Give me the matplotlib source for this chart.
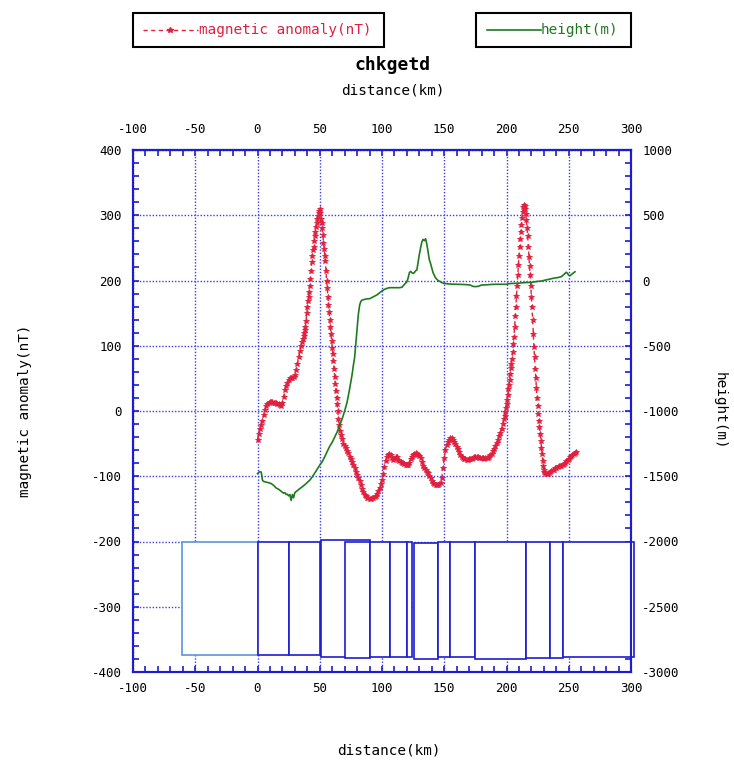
import matplotlib
matplotlib.use("Agg")
import matplotlib.pyplot as plt
from matplotlib.patches import Rectangle
from matplotlib.lines import Line2D
from matplotlib.ticker import MultipleLocator

plt.rcParams['axes.unicode_minus'] = False

# ---------------- data ----------------
title = "chkgetd"
x_label = "distance(km)"
mag_label = "magnetic anomaly(nT)"
height_label = "height(m)"

mag_km = [0, 1, 2, 3, 4, 5, 6, 7, 8, 9, 10, 11, 12, 13, 14, 15, 16, 17, 18, 19,
          20, 21, 22, 23, 24, 25, 26, 27, 28, 29, 30, 31, 32, 33, 34, 35,
          36, 36.5, 37, 37.5, 38, 38.5, 39, 39.5, 40, 40.5, 41, 41.5, 42, 42.5, 43, 43.5,
          44, 44.5, 45, 45.5, 46, 46.5, 47, 47.5, 48, 48.5, 49, 49.5, 50, 50.5, 51, 51.5,
          52, 52.5, 53, 53.5, 54, 54.5, 55, 55.5, 56, 56.5, 57, 57.5, 58, 58.5, 59, 59.5,
          60, 60.5, 61, 61.5, 62, 62.5, 63, 63.5, 64, 64.5, 65, 65.5, 66,
          67, 68, 69, 70, 71, 72, 73, 74, 75, 76, 77, 78, 79, 80, 81, 82, 83, 84, 85, 86,
          87, 88, 89, 90, 91, 92, 93, 94, 95, 96, 97, 98, 99, 100, 101, 102, 103, 104, 105,
          106, 107, 108, 109, 110, 111, 112, 113, 114, 115, 116, 117, 118, 119, 120, 121,
          122, 123, 124, 125, 126, 127, 128, 129, 130, 131, 132, 133, 134, 135, 136, 137,
          138, 139, 140, 141, 142, 143, 144, 145, 146, 147, 148, 149, 150, 151, 152, 153,
          154, 155, 156, 157, 158, 159, 160, 161, 162, 163, 164, 165, 166, 167, 168, 169,
          170, 171, 172, 173, 174, 175, 176, 177, 178, 179, 180, 181, 182, 183, 184, 185,
          186, 187, 188, 189, 190, 191, 192, 193, 194, 195, 196, 197, 198,
          198.5, 199, 199.5, 200, 200.5, 201, 201.5, 202, 202.5, 203, 203.5, 204, 204.5,
          205, 205.5, 206, 206.5, 207, 207.5, 208, 208.5, 209, 209.5, 210, 210.5, 211,
          211.5, 212, 212.5, 213, 213.5, 214, 214.5, 215, 215.5, 216, 216.5, 217, 217.5,
          218, 218.5, 219, 219.5, 220, 220.5, 221, 221.5, 222, 222.5, 223, 223.5, 224,
          224.5, 225, 225.5, 226, 226.5, 227, 227.5, 228, 228.5, 229, 229.5, 230, 230.5, 231,
          232, 233, 234, 235, 236, 237, 238, 239, 240, 241, 242, 243, 244, 245, 246, 247,
          248, 249, 250, 251, 252, 253, 254, 255, 256]

mag_nT = [-44, -36, -28, -21, -15, -6, 2, 7, 10, 12, 14, 14, 14, 13, 12, 12, 11, 10, 9, 8,
          12, 22, 32, 38, 43, 47, 50, 51, 51, 52, 55, 63, 72, 82, 92, 100,
          106, 110, 115, 120, 124, 129, 138, 150, 160, 168, 175, 183, 192, 202, 215, 228,
          238, 246, 252, 260, 268, 275, 282, 288, 294, 299, 303, 307, 309, 303, 295, 288,
          280, 270, 258, 248, 238, 230, 215, 200, 188, 175, 162, 152, 140, 128, 118, 108,
          97, 88, 76, 65, 52, 42, 30, 20, 10, 0, -12, -22, -30,
          -37, -43, -50, -54, -57, -61, -65, -70, -74, -78, -83, -88, -93, -98, -103, -108, -114, -119, -124, -128,
          -131, -133, -134, -135, -135, -134, -133, -132, -130, -127, -123, -118, -112, -105, -96, -86, -76, -70, -68,
          -66, -68, -72, -75, -73, -70, -71, -75, -77, -78, -79, -80, -81, -82, -82, -82,
          -79, -74, -70, -67, -66, -65, -66, -67, -69, -72, -78, -84, -88, -91, -93, -95,
          -99, -103, -107, -110, -112, -114, -114, -113, -112, -110, -103, -88, -72, -60, -52, -47,
          -44, -42, -42, -44, -47, -51, -55, -59, -63, -67, -70, -72, -74, -74, -75, -75,
          -74, -74, -73, -72, -71, -71, -71, -71, -72, -72, -72, -72, -73, -72, -72, -72,
          -70, -68, -66, -62, -58, -54, -49, -45, -39, -33, -27, -20, -12,
          -7, -2, 4, 10, 17, 25, 33, 40, 48, 57, 66, 72, 80,
          90, 102, 114, 128, 145, 160, 176, 192, 208, 224, 238, 252, 264,
          275, 285, 296, 305, 312, 316, 314, 310, 302, 292, 280, 268, 252,
          236, 222, 208, 192, 175, 160, 140, 118, 98, 82, 65, 50, 35,
          20, 8, -4, -15, -25, -36, -46, -56, -66, -76, -84, -90, -94, -95,
          -96, -96, -95, -94, -92, -91, -90, -88, -87, -86, -85, -84, -84, -83, -81, -79,
          -77, -75, -73, -71, -69, -67, -66, -64, -63]

height_km = [0, 1, 2, 3, 4, 5, 7, 9, 11, 13, 15, 17, 19, 21, 22, 23, 24, 25, 26, 27, 28,
             29, 30, 32, 34, 36, 38, 40, 42, 44, 46, 48, 50, 52, 54, 56, 58, 60, 62, 64,
             66, 68, 70, 72, 74, 76, 77, 78, 79, 80, 81, 82, 83, 84, 86, 88, 90, 92, 94,
             96, 98, 100, 102, 104, 106, 108, 110, 112, 114, 116, 118, 120, 121, 122, 123,
             124, 125, 126, 127, 128, 129, 130, 131, 132, 133, 134, 135, 136, 137, 138,
             139, 140, 141, 142, 143, 145, 147, 149, 152, 156, 160, 164, 168, 171, 173,
             175, 177, 180, 184, 188, 192, 196, 200, 202, 206, 210, 215, 220, 224, 228,
             232, 235, 238, 241, 244, 246, 248, 249, 250, 251, 252, 254, 255]

height_m = [-1480, -1470, -1465, -1468, -1530, -1540, -1545, -1550, -1556, -1570, -1590,
            -1600, -1615, -1630, -1625, -1640, -1638, -1650, -1640, -1685, -1640, -1665,
            -1625, -1610, -1595, -1580, -1565, -1548, -1530, -1505, -1475, -1445, -1415,
            -1388, -1350, -1310, -1270, -1240, -1200, -1160, -1110, -1060, -1000, -930,
            -830, -720, -650, -590, -480, -370, -260, -190, -160, -150, -145, -140, -140,
            -130, -120, -110, -95, -80, -68, -60, -55, -55, -55, -55, -55, -52, -30, -10,
            20, 60, 70, 60, 55, 60, 75, 80, 140, 200, 250, 295, 315, 305, 320, 280, 220,
            160, 130, 95, 60, 40, 20, 0, -10, -20, -25, -28, -29, -30, -32, -35, -45,
            -47, -45, -35, -33, -30, -29, -29, -29, -24, -22, -20, -16, -14, -8, -4,
            5, 11, 18, 22, 29, 45, 63, 55, 40, 37, 45, 60, 67]

block_left = [-60.5, 0, 25.7, 51.4, 69.9, 90.2, 106.3, 120.2, 126.1, 144.8, 155.0, 175.1, 215.8, 234.8, 245.0]
block_right = [0, 25.7, 49.8, 90.2, 90.2, 106.3, 120.2, 124.3, 144.8, 155.0, 175.1, 215.8, 234.8, 245.0, 302.2]
block_top = [-2000, -2000, -2000, -1992, -2000, -2000, -2000, -2000, -2014, -2000, -2000, -2000, -2000, -2000, -2000]
block_bottom = [-2872, -2872, -2872, -2885, -2890, -2885, -2885, -2885, -2903, -2885, -2885, -2903, -2890, -2890, -2883]

# ---------------- style ----------------
W, H = 734, 760
BLUE = '#1c1cd2'
GRID = '#3b3bea'
RED = '#e0203e'
GREEN = '#1f7a1f'
MONO = 'DejaVu Sans Mono'

fig = plt.figure(figsize=(W / 100, H / 100), dpi=100)
ax = fig.add_axes([133 / W, 1 - 672 / H, (631 - 133) / W, (672 - 150) / H])
ax.set_xlim(-100, 300)
ax.set_ylim(-400, 400)

ax.xaxis.set_major_locator(MultipleLocator(50))
ax.xaxis.set_minor_locator(MultipleLocator(10))
ax.yaxis.set_major_locator(MultipleLocator(100))
ax.yaxis.set_minor_locator(MultipleLocator(20))
ax.tick_params(which='both', direction='in', length=4, width=1.2, color=BLUE,
               top=False, right=False, labelsize=9)
ax.tick_params(axis='x', pad=7)
ax.tick_params(axis='y', pad=8)
for lab in ax.get_xticklabels() + ax.get_yticklabels():
    lab.set_family(MONO)
ax.grid(True, which='major', color=GRID, linestyle=(0, (1, 1.3)), linewidth=1.0)
for sp in ax.spines.values():
    sp.set_color(BLUE)
    sp.set_linewidth(1.5)

# top axis
secax = ax.secondary_xaxis('top')
secax.xaxis.set_major_locator(MultipleLocator(50))
secax.xaxis.set_minor_locator(MultipleLocator(10))
secax.tick_params(which='both', direction='in', length=4, width=1.2, color=BLUE,
                  labelsize=9, pad=10)
for lab in secax.get_xticklabels():
    lab.set_family(MONO)
secax.spines['top'].set_color(BLUE)
secax.spines['top'].set_linewidth(1.5)

# magnetic anomaly
ax.plot(mag_km, mag_nT, linestyle='--', dashes=(3, 2.5), linewidth=1.0, color=RED,
        marker='*', markersize=3.8, markeredgewidth=0.6, zorder=3)

# right axis: height
ax2 = ax.twinx()
ax2.set_ylim(-3000, 1000)
ax2.yaxis.set_major_locator(MultipleLocator(500))
ax2.yaxis.set_minor_locator(MultipleLocator(100))
ax2.tick_params(which='both', direction='in', length=4, width=1.2, color=BLUE,
                labelsize=9, pad=8)
for lab in ax2.get_yticklabels():
    lab.set_family(MONO)
for sp in ax2.spines.values():
    sp.set_color(BLUE)
    sp.set_linewidth(1.5)

for i, (l, r, t, b) in enumerate(zip(block_left, block_right, block_top, block_bottom)):
    ec = '#5a96d6' if i == 0 else BLUE
    ax2.add_patch(Rectangle((l, b), r - l, t - b, facecolor='white', edgecolor=ec,
                            linewidth=1.2, zorder=2, clip_on=False))

ax2.plot(height_km, height_m, color=GREEN, linewidth=1.2, zorder=3)

# labels
ax.set_xlabel(x_label, family=MONO, fontsize=10.4, va='center')
ax.xaxis.set_label_coords((389 - 133) / 498, (672 - 750) / 522)
ax.set_ylabel(mag_label, family=MONO, fontsize=10.4, va='center', ha='center')
ax.yaxis.set_label_coords((25 - 133) / 498, 0.5)
ax2.set_ylabel(height_label, family=MONO, fontsize=10.4, rotation=270, va='center', ha='center')
ax2.yaxis.set_label_coords((720 - 133) / 498, 0.5)
ax.text((393 - 133) / 498, (672 - 91) / 522, x_label, transform=ax.transAxes,
        ha='center', va='center', family=MONO, fontsize=10.4)
ax.text((393 - 133) / 498, (672 - 65) / 522, title, transform=ax.transAxes,
        ha='center', va='center', family=MONO, fontsize=13, fontweight='bold')

# legend boxes (figure coordinates)
def fx(px):
    return px / W

def fy(py):
    return 1 - py / H

for x0, x1 in [(133, 384), (476, 631)]:
    fig.add_artist(Rectangle((fx(x0), fy(47)), fx(x1 - x0), (47 - 13) / H,
                             transform=fig.transFigure, fill=False,
                             edgecolor='black', linewidth=1.5))
fig.add_artist(Line2D([fx(143), fx(198)], [fy(30), fy(30)], transform=fig.transFigure,
                      color=RED, linestyle='--', dashes=(3, 2.5), linewidth=1.0))
fig.add_artist(Line2D([fx(170)], [fy(30)], transform=fig.transFigure, color=RED,
                      marker='*', markersize=3.8, linestyle='none'))
fig.text(fx(199), fy(30), mag_label, ha='left', va='center', color=RED,
         family=MONO, fontsize=10.4)
fig.add_artist(Line2D([fx(487), fx(541)], [fy(30), fy(30)], transform=fig.transFigure,
                      color=GREEN, linewidth=1.2))
fig.text(fx(541), fy(30), height_label, ha='left', va='center', color=GREEN,
         family=MONO, fontsize=10.4)

fig.savefig('out.png', dpi=100)
